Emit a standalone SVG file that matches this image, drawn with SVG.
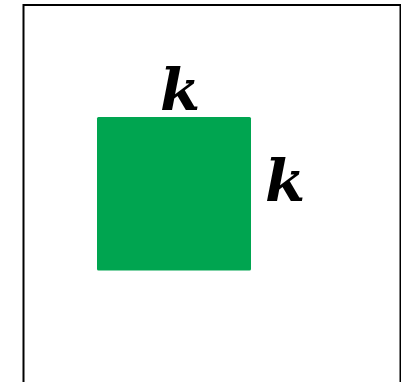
<svg xmlns="http://www.w3.org/2000/svg" width="401" height="382" viewBox="0 0 401 382">
<style>
.lbl{font-family:"DejaVu Serif","Liberation Serif",serif;font-weight:bold;font-style:italic;font-size:58px;fill:#000}
</style>
<rect width="401" height="382" fill="#fff"/>
<g id="frame"><rect x="23.5" y="5" width="377" height="400" fill="none" stroke="#000" stroke-width="2"/></g>
<g id="square"><rect x="97" y="117" width="154" height="153.5" rx="1.5" fill="#00A550"/></g>
<g id="label-top"><text class="lbl" x="180" y="110" text-anchor="middle">k</text></g>
<g id="label-right"><text class="lbl" x="285" y="201" text-anchor="middle">k</text></g>
</svg>
